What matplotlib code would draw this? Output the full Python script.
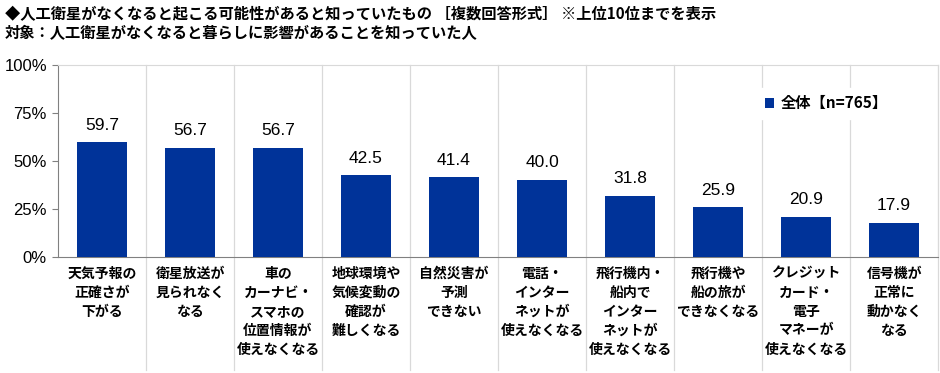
import matplotlib.pyplot as plt
import matplotlib.transforms as mtransforms

plt.rcParams['font.family'] = ['Noto Sans CJK JP', 'DejaVu Sans']

# データ
categories = [
    '天気予報の\n正確さが\n下がる',
    '衛星放送が\n見られなく\nなる',
    '車の\nカーナビ・\nスマホの\n位置情報が\n使えなくなる',
    '地球環境や\n気候変動の\n確認が\n難しくなる',
    '自然災害が\n予測\nできない',
    '電話・\nインター\nネットが\n使えなくなる',
    '飛行機内・\n船内で\nインター\nネットが\n使えなくなる',
    '飛行機や\n船の旅が\nできなくなる',
    'クレジット\nカード・\n電子\nマネーが\n使えなくなる',
    '信号機が\n正常に\n動かなく\nなる',
]
values = [59.7, 56.7, 56.7, 42.5, 41.4, 40.0, 31.8, 25.9, 20.9, 17.9]
yticks = [0, 25, 50, 75, 100]
series_name = '全体【n=765】'

title1 = '◆人工衛星がなくなると起こる可能性があると知っていたもの ［複数回答形式］ ※上位10位までを表示'
title2 = '対象：人工衛星がなくなると暮らしに影響があることを知っていた人'

bar_color = '#003399'
num_font = ['Liberation Sans', 'Noto Sans CJK JP']

fig = plt.figure(figsize=(9.4, 3.73), dpi=100)
ax = fig.add_axes([0.0617, 0.311, 0.9363, 0.515])

x = list(range(len(values)))
bars = ax.bar(x, values, width=0.56, color=bar_color, label=series_name, zorder=3)

for xi, v in zip(x, values):
    ax.annotate(f'{v:.1f}', (xi, v), xytext=(0, 7), textcoords='offset points',
                ha='center', va='bottom', fontsize=12.5, family=num_font)

ax.set_xlim(-0.5, len(values) - 0.5)
ax.set_ylim(0, 100)
ax.set_yticks(yticks)
ax.set_yticklabels([f'{t}%' for t in yticks], family=num_font, fontsize=12)
ax.set_xticks(x)
ax.set_xticklabels(categories, fontsize=10, fontweight='bold', linespacing=1.45)
ax.tick_params(axis='x', length=0, pad=7)
ax.tick_params(axis='y', length=4, color='#808080', pad=4)

for s in ['top', 'right']:
    ax.spines[s].set_color('#d9d9d9')
for s in ['left', 'bottom']:
    ax.spines[s].set_color('#808080')

# 区切り線
trans = mtransforms.blended_transform_factory(ax.transData, ax.transAxes)
for b in [i + 0.5 for i in range(len(values))]:
    ax.plot([b, b], [1, -0.59], transform=trans, color='#d9d9d9', lw=0.9,
            clip_on=False, zorder=1)

leg = ax.legend(loc='center', bbox_to_anchor=(0.873, 0.80), frameon=True,
                fancybox=False, framealpha=1, edgecolor='white',
                handlelength=0.6, handleheight=0.6, handletextpad=0.4,
                borderpad=0.5, prop={'weight': 'bold', 'size': 11})
leg.set_zorder(5)

fig.text(0.005, 0.962, title1, fontsize=11, fontweight='bold', va='center')
fig.text(0.005, 0.910, title2, fontsize=11, fontweight='bold', va='center')

plt.savefig('out.png', dpi=100)
